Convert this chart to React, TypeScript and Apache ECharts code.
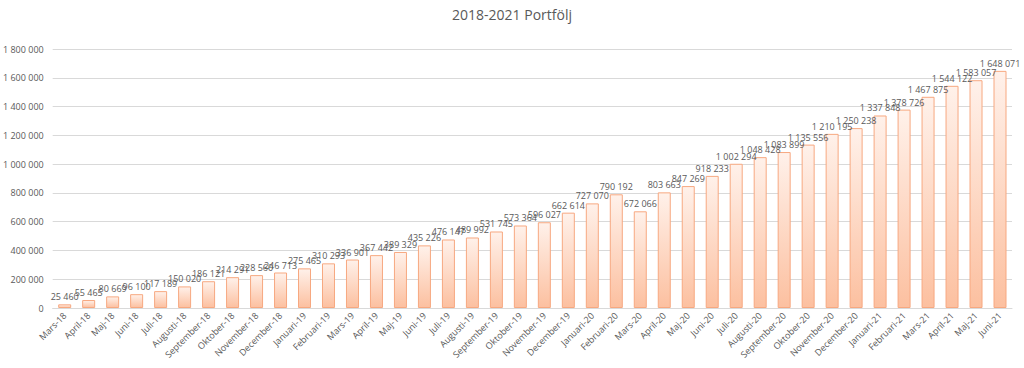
import React, { useEffect, useRef } from "react";
import * as echarts from "echarts";

const categories = [
  "Mars-18", "April-18", "Maj-18", "Juni-18", "Juli-18", "Augusti-18", "September-18", "Oktober-18", "November-18", "December-18",
  "Januari-19", "Februari-19", "Mars-19", "April-19", "Maj-19", "Juni-19", "Juli-19", "Augusti-19", "September-19", "Oktober-19",
  "November-19", "December-19", "Januari-20", "Februari-20", "Mars-20", "April-20", "Maj-20", "Juni-20", "Juli-20", "Augusti-20",
  "September-20", "Oktober-20", "November-20", "December-20", "Januari-21", "Februari-21", "Mars-21", "April-21", "Maj-21", "Juni-21",
];

const values = [
  25460, 55465, 80669, 96100, 117189, 150020, 186121, 214291, 228560, 246713,
  275465, 310293, 336901, 367442, 389329, 435226, 476147, 489992, 531745, 573364,
  596027, 662614, 727070, 790192, 672066, 803663, 847269, 918233, 1002294, 1048428,
  1083899, 1135556, 1210195, 1250238, 1337848, 1378726, 1467875, 1544122, 1583057, 1648071,
];

const title = "2018-2021 Portfölj";

const fmt = (v: number) => String(Math.round(v)).replace(/\B(?=(\d{3})+(?!\d))/g, " ");

export default function App() {
  const ref = useRef<HTMLDivElement>(null);
  useEffect(() => {
    if (!ref.current) return;
    const chart = echarts.init(ref.current, null, { renderer: "svg" });
    const font = "'Open Sans', 'Noto Sans', sans-serif";
    chart.setOption({
      animation: false,
      backgroundColor: "#ffffff",
      title: {
        text: title,
        left: "center",
        top: 2,
        textStyle: { fontFamily: font, fontSize: 14, fontWeight: "normal", color: "#595959" },
      },
      grid: { left: 52, right: 12, top: 49, bottom: 60 },
      xAxis: {
        type: "category",
        data: categories,
        axisLine: { lineStyle: { color: "#d9d9d9" } },
        axisTick: { show: false },
        axisLabel: { rotate: 45, interval: 0, fontFamily: font, fontSize: 9, color: "#595959", margin: 6 },
      },
      yAxis: {
        type: "value",
        min: 0,
        max: 1800000,
        interval: 200000,
        axisLine: { show: false },
        axisTick: { show: false },
        splitLine: { lineStyle: { color: "#d9d9d9" } },
        axisLabel: { fontFamily: font, fontSize: 9, color: "#595959", margin: 9, formatter: (v: number) => fmt(v) },
      },
      series: [
        {
          type: "bar",
          data: values,
          barWidth: 13,
          itemStyle: {
            color: new echarts.graphic.LinearGradient(0, 0, 0, 1, [
              { offset: 0, color: "#fff1ea" },
              { offset: 1, color: "#fcc0a0" },
            ]),
            borderColor: "#f7a880",
            borderWidth: 1,
          },
          label: {
            show: true,
            position: "top",
            distance: 3,
            fontFamily: font,
            fontSize: 9,
            color: "#595959",
            formatter: (p: any) => fmt(p.value),
          },
        },
      ],
    });
    return () => chart.dispose();
  }, []);
  return <div ref={ref} style={{ position: "absolute", left: 0, top: 0, width: 1024, height: 368 }} />;
}
